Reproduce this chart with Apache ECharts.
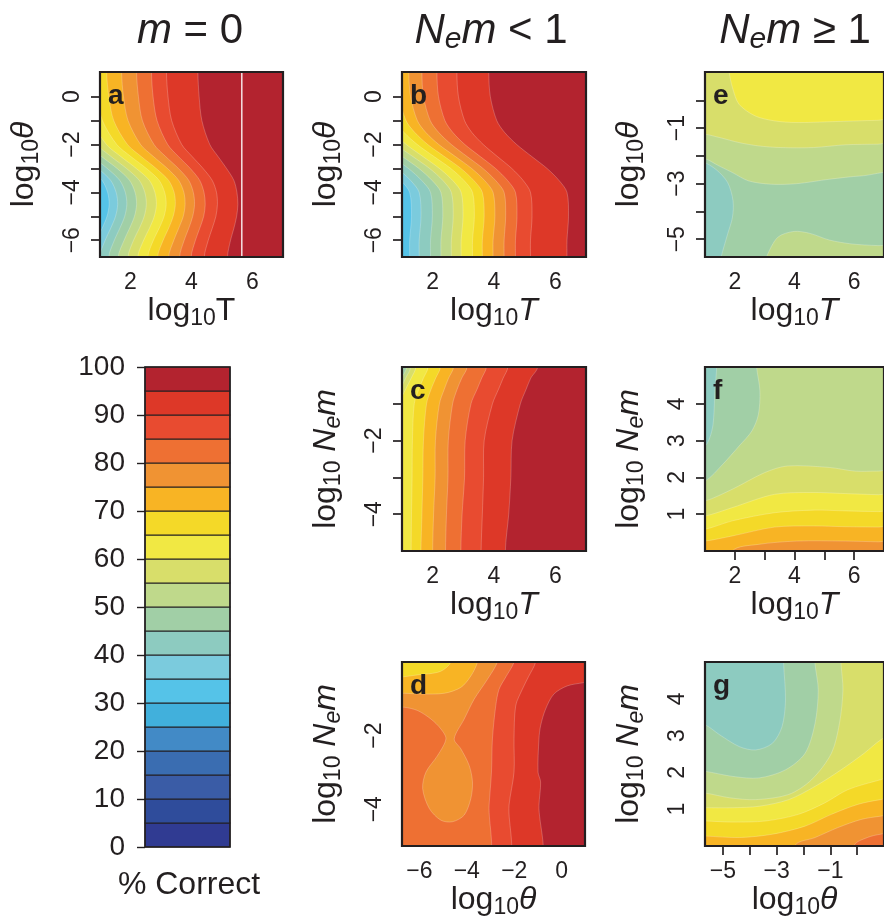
<!DOCTYPE html>
<html><head><meta charset="utf-8">
<script src="https://cdn.jsdelivr.net/npm/echarts@6.0.0/dist/echarts.min.js"></script>
<style>html,body{margin:0;padding:0;background:#fff;}#chart{width:884px;height:920px;}</style>
</head><body><div id="chart"></div>
<script>
// ---------- colour scale (% correct, 5% bands) ----------
const bandLows = [0,5,10,15,20,25,30,35,40,45,50,55,60,65,70,75,80,85,90,95];
const bandColors = ['#303b92','#2f4c9b','#3a5ca6','#3a6db1','#428ac6','#41b0dc','#55c3e8','#7bcbdd','#8dcbc0','#a1cfa6',
                    '#bfd98b','#d8de6a','#f1e843','#f4d928','#f8b424','#f09333','#ee7033','#e84b30','#dd3828','#b3232f'];
const colorbarTicks = [0,10,20,30,40,50,60,70,80,90,100];

// ---------- panel a (m = 0): contour x-positions (log10 T) at given log10 theta ----------
const aY = [1.0, 0, -1, -2, -2.5, -3, -3.5, -4, -4.5, -5, -5.5, -6, -6.7];
const aBounds = [
  [95, [4.21, 4.25, 4.34, 4.60, 4.87, 5.15, 5.39, 5.49, 5.52, 5.48, 5.39, 5.28, 5.18]],
  [90, [3.18, 3.23, 3.35, 3.68, 4.02, 4.38, 4.68, 4.82, 4.85, 4.80, 4.68, 4.55, 4.42]],
  [85, [2.69, 2.74, 2.87, 3.22, 3.57, 3.96, 4.27, 4.41, 4.45, 4.40, 4.27, 4.13, 3.99]],
  [80, [2.20, 2.26, 2.39, 2.77, 3.15, 3.57, 3.91, 4.06, 4.10, 4.04, 3.91, 3.76, 3.61]],
  [75, [1.71, 1.77, 1.92, 2.33, 2.75, 3.21, 3.58, 3.75, 3.79, 3.73, 3.58, 3.42, 3.25]],
  [70, [1.22, 1.29, 1.45, 1.90, 2.35, 2.84, 3.25, 3.43, 3.47, 3.40, 3.25, 3.07, 2.89]],
  [65, [0.85, 0.92, 1.08, 1.55, 2.01, 2.52, 2.94, 3.12, 3.17, 3.10, 2.94, 2.75, 2.57]],
  [60, [0.50, 0.57, 0.74, 1.21, 1.68, 2.19, 2.62, 2.80, 2.85, 2.78, 2.62, 2.43, 2.24]],
  [55, [0.20, 0.27, 0.43, 0.90, 1.36, 1.87, 2.29, 2.47, 2.52, 2.45, 2.29, 2.10, 1.92]],
  [50, [-0.10, -0.03, 0.13, 0.59, 1.05, 1.56, 1.97, 2.15, 2.20, 2.13, 1.97, 1.79, 1.60]],
  [45, [-0.40, -0.33, -0.17, 0.28, 0.74, 1.24, 1.65, 1.83, 1.88, 1.81, 1.65, 1.47, 1.29]],
  [40, [-0.70, -0.63, -0.47, -0.02, 0.44, 0.94, 1.35, 1.53, 1.58, 1.51, 1.35, 1.17, 0.99]],
  [35, [-1.00, -0.93, -0.77, -0.31, 0.15, 0.66, 1.07, 1.25, 1.30, 1.23, 1.07, 0.89, 0.70]]
];
const aGapT = 5.65;

// ---------- panel b (Nem < 1) ----------
const bY = [1.0, 0, -1, -1.5, -2, -2.5, -3, -3.5, -4, -5, -6, -6.7];
const bBounds = [
  [95, [3.83, 3.88, 4.09, 4.35, 4.74, 5.23, 5.73, 6.12, 6.38, 6.43, 6.38, 6.38]],
  [90, [2.79, 2.84, 3.04, 3.28, 3.65, 4.11, 4.58, 4.95, 5.19, 5.24, 5.19, 5.19]],
  [85, [2.14, 2.19, 2.40, 2.66, 3.05, 3.55, 4.05, 4.44, 4.70, 4.75, 4.70, 4.70]],
  [80, [1.65, 1.70, 1.92, 2.20, 2.61, 3.12, 3.64, 4.05, 4.33, 4.38, 4.33, 4.33]],
  [75, [1.22, 1.28, 1.50, 1.78, 2.20, 2.74, 3.27, 3.69, 3.97, 4.03, 3.97, 3.97]],
  [70, [0.85, 0.91, 1.13, 1.42, 1.84, 2.38, 2.92, 3.34, 3.62, 3.68, 3.62, 3.62]],
  [65, [0.50, 0.56, 0.79, 1.07, 1.50, 2.04, 2.59, 3.02, 3.30, 3.36, 3.30, 3.30]],
  [60, [0.15, 0.21, 0.43, 0.72, 1.14, 1.68, 2.22, 2.65, 2.93, 2.99, 2.93, 2.93]],
  [55, [-0.20, -0.14, 0.09, 0.37, 0.80, 1.35, 1.90, 2.33, 2.61, 2.67, 2.61, 2.61]],
  [50, [-0.55, -0.49, -0.26, 0.03, 0.46, 1.01, 1.55, 1.98, 2.27, 2.33, 2.27, 2.27]],
  [45, [-0.90, -0.84, -0.61, -0.32, 0.11, 0.66, 1.21, 1.64, 1.93, 1.99, 1.93, 1.93]],
  [40, [-1.25, -1.19, -0.96, -0.68, -0.25, 0.30, 0.85, 1.28, 1.56, 1.62, 1.56, 1.56]],
  [35, [-1.60, -1.54, -1.31, -1.02, -0.58, -0.03, 0.52, 0.96, 1.25, 1.31, 1.25, 1.25]]
];

// ---------- panel c (Nem < 1, log10 T vs log10 Nem) ----------
const cY = [0, -0.3, -0.6, -1, -2, -3, -4, -5];
const cBounds = [
  [95, [5.42, 5.20, 5.05, 4.86, 4.59, 4.55, 4.48, 4.37]],
  [90, [4.45, 4.30, 4.15, 3.95, 3.68, 3.66, 3.62, 3.58]],
  [85, [3.75, 3.60, 3.45, 3.25, 3.06, 3.04, 2.96, 2.92]],
  [80, [3.12, 2.95, 2.80, 2.65, 2.51, 2.50, 2.45, 2.42]],
  [75, [2.68, 2.52, 2.38, 2.22, 2.09, 2.08, 2.03, 2.00]],
  [70, [2.25, 2.10, 1.95, 1.80, 1.70, 1.68, 1.65, 1.62]],
  [65, [1.85, 1.70, 1.55, 1.40, 1.34, 1.33, 1.31, 1.30]],
  [60, [1.45, 1.30, 1.12, 0.90, 0.60, 0.60, 0.60, 0.60]],
  [55, [1.28, 1.12, 0.95, 0.70, 0.40, 0.40, 0.40, 0.40]],
  [50, [1.15, 0.98, 0.75, 0.50, 0.20, 0.20, 0.20, 0.20]],
  [45, [1.05, 0.88, 0.60, 0.30, 0.00, 0.00, 0.00, 0.00]]
];

// ---------- panel d (Nem < 1, log10 theta vs log10 Nem): filled regions [bandLow, outline] ----------
const dBase = 95;
const dRegions = [
  [90, [[-7.5,0.5],[1.5,0.5],[1.5,-0.5],[0.93,-0.56],[0.23,-0.65],[-0.33,-0.87],[-0.68,-1.28],[-0.89,-1.73],[-0.96,-2.09],[-1.0,-2.99],[-0.89,-3.26],[-0.96,-3.89],[-1.03,-5.5],[-7.5,-5.5]]],
  [85, [[-7.5,0.5],[-1.05,0.5],[-1.10,0],[-1.40,-0.40],[-1.66,-0.74],[-1.94,-1.19],[-2.01,-2.09],[-2.01,-2.99],[-2.22,-3.89],[-2.36,-5.5],[-7.5,-5.5]]],
  [80, [[-7.5,0.5],[-1.95,0.5],[-2.01,0],[-2.35,-0.40],[-2.64,-0.74],[-2.78,-1.19],[-2.92,-2.09],[-2.96,-2.99],[-3.06,-3.89],[-3.20,-5.5],[-7.5,-5.5]]],
  [75, [[-7.5,0.5],[-2.6,0.5],[-2.71,0],[-3.13,-0.47],[-3.69,-1.01],[-4.11,-1.55],[-4.53,-2.09],[-4.25,-2.36],[-3.90,-2.81],[-3.76,-3.26],[-3.83,-3.71],[-4.11,-4.16],[-4.60,-4.34],[-5.09,-4.30],[-5.58,-3.98],[-5.86,-3.44],[-5.72,-2.99],[-5.23,-2.54],[-4.88,-2.09],[-5.09,-1.82],[-5.51,-1.55],[-6.07,-1.32],[-6.63,-1.23],[-7.5,-1.2]]],
  [70, [[-7.5,0.5],[-3.5,0.5],[-3.55,0],[-3.83,-0.38],[-4.25,-0.69],[-4.95,-0.85],[-5.93,-0.87],[-6.63,-0.85],[-7.5,-0.85]]],
  [65, [[-7.5,0.5],[-4.6,0.5],[-4.67,0],[-5.09,-0.25],[-5.79,-0.33],[-7.5,-0.36]]]
];

// ---------- panel e (Nem >= 1, log10 T vs log10 theta) ----------
const eBase = 60;
const eRegions = [
  [55, [[0.5,1.5],[1.75,1.5],[1.81,1.0],[1.92,0.46],[2.14,-0.14],[2.68,-0.56],[3.33,-0.74],[4.08,-0.80],[5.17,-0.77],[6.79,-0.72],[7.5,-0.72],[7.5,-6],[0.5,-6]]],
  [50, [[0.5,-1.2],[1.0,-1.22],[1.49,-1.34],[2.14,-1.52],[2.79,-1.64],[3.54,-1.70],[4.63,-1.70],[5.71,-1.60],[6.79,-1.58],[7.5,-1.58],[7.5,-6],[0.5,-6]]],
  [45, [[0.5,-2.05],[1.0,-2.1],[1.45,-2.35],[1.92,-2.60],[2.46,-2.90],[3.22,-3.02],[4.08,-3.0],[5.17,-2.84],[6.25,-2.72],[7.5,-2.70],[7.5,-6],[0.5,-6]]],
  [40, [[0.5,-2.2],[0.9,-2.2],[1.38,-2.50],[1.76,-2.96],[1.94,-3.62],[1.92,-4.21],[1.76,-4.81],[1.54,-5.65],[1.5,-6],[0.5,-6]]],
  [50, [[3.0,-6],[3.06,-5.64],[3.44,-4.93],[3.98,-4.72],[4.52,-4.79],[5.17,-5.03],[5.92,-5.17],[6.79,-5.23],[7.5,-5.25],[7.5,-6]]]
];

// ---------- panel f (Nem >= 1, log10 T vs log10 Nem) ----------
const fBase = 50;
const fRegions = [
  [45, [[0.5,5.5],[2.73,5.5],[2.73,5.0],[2.84,4.35],[2.79,3.71],[2.57,3.26],[2.14,2.85],[1.6,2.36],[1.0,1.90],[0.5,1.85]]],
  [40, [[0.5,5.5],[1.32,5.5],[1.32,4.17],[1.27,3.44],[1.16,3.08],[1.0,2.85],[0.5,2.7]]],
  [55, [[0.5,1.36],[1.0,1.36],[1.92,1.68],[3.0,2.13],[3.76,2.31],[5.17,2.27],[6.03,2.17],[6.81,2.17],[7.5,2.17],[7.5,-1],[0.5,-1]]],
  [60, [[0.5,0.95],[1.0,0.95],[1.92,1.18],[3.33,1.54],[4.63,1.59],[5.71,1.56],[6.81,1.53],[7.5,1.53],[7.5,-1],[0.5,-1]]],
  [65, [[0.5,0.59],[1.0,0.59],[1.92,0.82],[3.33,1.04],[4.63,1.11],[5.71,1.09],[6.81,1.07],[7.5,1.07],[7.5,-1],[0.5,-1]]],
  [70, [[0.5,0.27],[1.0,0.27],[1.92,0.41],[3.33,0.65],[4.63,0.68],[5.71,0.66],[6.81,0.65],[7.5,0.65],[7.5,-1],[0.5,-1]]],
  [75, [[1.7,-1],[1.92,0.0],[2.79,0.18],[4.08,0.27],[5.71,0.27],[6.81,0.25],[7.5,0.25],[7.5,-1]]]
];

// ---------- panel g (Nem >= 1, log10 theta vs log10 Nem) ----------
const gBase = 55;
const gRegions = [
  [50, [[-6,5.5],[-0.60,5.5],[-0.60,4.96],[-0.53,4.24],[-0.66,3.33],[-0.96,2.52],[-1.70,1.80],[-2.55,1.40],[-3.78,1.26],[-4.75,1.31],[-5.67,1.44],[-6,1.44]]],
  [45, [[-6,5.5],[-1.57,5.5],[-1.57,4.96],[-1.45,4.24],[-1.57,3.33],[-1.94,2.52],[-2.67,2.07],[-3.65,1.85],[-4.63,1.89],[-5.67,2.03],[-6,2.03]]],
  [40, [[-6,5.5],[-2.74,5.5],[-2.74,4.96],[-2.67,3.96],[-2.80,3.24],[-3.16,2.79],[-3.78,2.61],[-4.39,2.70],[-5.12,3.02],[-5.66,3.29],[-6,3.29]]],
  [60, [[-6,1.04],[-5.67,1.04],[-4.63,1.04],[-3.65,1.08],[-2.55,1.26],[-1.57,1.62],[-0.60,2.07],[0.26,2.52],[0.87,2.88],[1.5,3.1],[1.5,-1],[-6,-1]]],
  [65, [[-6,0.68],[-5.67,0.68],[-4.63,0.65],[-3.41,0.68],[-2.19,0.86],[-1.21,1.17],[-0.35,1.53],[0.87,1.80],[1.5,1.9],[1.5,-1],[-6,-1]]],
  [70, [[-6,0.27],[-5.67,0.27],[-4.39,0.23],[-3.16,0.32],[-1.94,0.54],[-0.96,0.86],[0.02,1.13],[0.87,1.26],[1.5,1.3],[1.5,-1],[-6,-1]]],
  [75, [[-2.5,-1],[-2.31,0.02],[-1.57,0.23],[-0.72,0.50],[0.14,0.72],[0.87,0.81],[1.5,0.85],[1.5,-1]]],
  [80, [[-0.3,-1],[-0.11,0.02],[0.38,0.23],[0.87,0.32],[1.5,0.36],[1.5,-1]]]
];

// ---------- tick values ----------
const ticksT = [2,3,4,5,6], labelsT = [2,4,6];
const ticksThetaA = [-6,-5,-4,-3,-2,-1,0], labelsThetaA = [-6,-4,-2,0];
const ticksThetaE = [-5,-4,-3,-2,-1,0], labelsThetaE = [-5,-3,-1];
const ticksNemLow = [-4,-3,-2,-1], labelsNemLow = [-4,-2];
const ticksNemHigh = [1,2,3,4], labelsNemHigh = [1,2,3,4];

// ---------- build ----------
const FONT = "'Liberation Sans', Arial, Helvetica, sans-serif";
const INK = '#231f20';
const BIG = [[-50,50],[50,50],[50,-50],[-50,-50]];

function fromBounds(ys, bounds) {
  const n = ys.length - 1;
  return bounds.map(([t, xs]) => [t - 5, [[-20, ys[0] + 5], [xs[0], ys[0] + 5]]
    .concat(xs.map((x, i) => [x, ys[i]]))
    .concat([[xs[n], ys[n] - 5], [-20, ys[n] - 5]])]);
}
const regA = [[95, BIG]].concat(fromBounds(aY, aBounds));
const regB = [[95, BIG]].concat(fromBounds(bY, bBounds));
const regC = [[95, BIG]].concat(fromBounds(cY, cBounds));
const regD = [[dBase, BIG]].concat(dRegions);
const regE = [[eBase, BIG]].concat(eRegions);
const regF = [[fBase, BIG]].concat(fRegions);
const regG = [[gBase, BIG]].concat(gRegions);

const nmLogT = '{n|log}{s|10}{n|T}';
const nmLogTi = '{n|log}{s|10}{i|T}';
const nmLogTheta = '{n|log}{s|10}{i|θ}';
const nmLogNem = '{n|log}{s|10}{n| }{i|N}{si|e}{i|m}';

const panels = [
  {g:[100,72,183,185], xr:[1,7], yr:[-6.7,1.03], xt:ticksT, xl:labelsT, yt:ticksThetaA, yl:labelsThetaA, xn:nmLogT, yn:nmLogTheta, reg:regA, L:'a'},
  {g:[402,72,184,185], xr:[1,7], yr:[-6.7,1.03], xt:ticksT, xl:labelsT, yt:ticksThetaA, yl:labelsThetaA, xn:nmLogTi, yn:nmLogTheta, reg:regB, L:'b'},
  {g:[705,72,185,185], xr:[1,7], yr:[-5.64,1.02], xt:ticksT, xl:labelsT, yt:ticksThetaE, yl:labelsThetaE, xn:nmLogTi, yn:nmLogTheta, reg:regE, L:'e'},
  {g:[402,367,184,184], xr:[1,7], yr:[-5,0], xt:ticksT, xl:labelsT, yt:ticksNemLow, yl:labelsNemLow, xn:nmLogTi, yn:nmLogNem, reg:regC, L:'c'},
  {g:[705,367,185,184], xr:[1,7], yr:[0,5], xt:ticksT, xl:labelsT, yt:ticksNemHigh, yl:labelsNemHigh, xn:nmLogTi, yn:nmLogNem, reg:regF, L:'f'},
  {g:[402,662,183,184], xr:[-6.73,0.98], yr:[-5,0], xt:ticksThetaA, xl:labelsThetaA, yt:ticksNemLow, yl:labelsNemLow, xn:nmLogTheta, yn:nmLogNem, reg:regD, L:'d'},
  {g:[705,662,182,184], xr:[-5.67,1.0], yr:[0,5], xt:ticksThetaE, xl:labelsThetaE, yt:ticksNemHigh, yl:labelsNemHigh, xn:nmLogTheta, yn:nmLogNem, reg:regG, L:'g'}
];

const fmt = v => (v < 0 ? '\u2212' + Math.abs(v) : String(v));
const nameRich = {
  n: {fontFamily: FONT, fontSize: 32, lineHeight: 38, color: INK},
  i: {fontFamily: FONT, fontSize: 32, lineHeight: 38, fontStyle: 'italic', color: INK},
  s: {fontFamily: FONT, fontSize: 23, lineHeight: 23, verticalAlign: 'bottom', color: INK},
  si: {fontFamily: FONT, fontSize: 23, lineHeight: 23, verticalAlign: 'bottom', fontStyle: 'italic', color: INK}
};

const grids = [], xAxes = [], yAxes = [], series = [], graphics = [];
panels.forEach((p, i) => {
  grids.push({left:p.g[0], top:p.g[1], width:p.g[2], height:p.g[3], show:true, borderColor:INK, borderWidth:2.2, backgroundColor:'rgba(0,0,0,0)', z:10});
  xAxes.push({type:'value', gridIndex:i, min:p.xr[0], max:p.xr[1], splitLine:{show:false}, axisLine:{show:false},
    axisTick:{customValues:p.xt, length:9, lineStyle:{color:INK, width:1.7}},
    axisLabel:{customValues:p.xl, formatter:fmt, fontFamily:FONT, fontSize:23, color:INK, margin:14},
    name:p.xn, nameLocation:'middle', nameGap:30, nameTextStyle:{fontFamily:FONT, fontSize:32, color:INK, rich:nameRich}});
  yAxes.push({type:'value', gridIndex:i, min:p.yr[0], max:p.yr[1], splitLine:{show:false}, axisLine:{show:false},
    axisTick:{customValues:p.yt, length:9, lineStyle:{color:INK, width:1.7}},
    axisLabel:{customValues:p.yl, formatter:fmt, fontFamily:FONT, fontSize:23, color:INK, margin:16, rotate:90},
    name:p.yn, nameLocation:'middle', nameGap:57, nameRotate:90, nameTextStyle:{fontFamily:FONT, fontSize:32, color:INK, rich:nameRich}});
  const reg = p.reg;
  series.push({type:'custom', xAxisIndex:i, yAxisIndex:i, clip:true, silent:true, animation:false,
    data: reg.map(() => [p.xr[0], p.yr[0]]),
    renderItem: (params, api) => {
      const r = reg[params.dataIndex];
      const bg = params.dataIndex === 0;
      return {type:'polygon', shape:{points: r[1].map(pt => api.coord(pt)), smooth: bg ? 0 : 0.3},
        style:{fill: bandColors[r[0] / 5], stroke: bg ? null : 'rgba(255,255,255,0.28)', lineWidth: 0.8}};
    }});
  graphics.push({type:'text', x:p.g[0] + 8, y:p.g[1] + 24, z:100,
    style:{text:p.L, fontSize:28, fontWeight:'bold', fontFamily:FONT, fill:INK, textVerticalAlign:'middle', verticalAlign:'middle'}});
});

// white gap line in panel a
series.push({type:'line', xAxisIndex:0, yAxisIndex:0, silent:true, animation:false, symbol:'none', z:5,
  data:[[aGapT, -6.7], [aGapT, 1.03]], lineStyle:{color:'#ffffff', width:1.3}});

// colour bar
const cbIndex = panels.length;
grids.push({left:145, top:367, width:85, height:480, show:true, borderColor:INK, borderWidth:1.5, backgroundColor:'rgba(0,0,0,0)', z:10});
xAxes.push({type:'value', gridIndex:cbIndex, min:0, max:1, show:false});
yAxes.push({type:'value', gridIndex:cbIndex, min:0, max:100, interval:10, splitLine:{show:false}, axisLine:{show:false},
  axisTick:{length:8, lineStyle:{color:INK, width:1.4}},
  axisLabel:{fontFamily:FONT, fontSize:28, color:INK, margin:20, customValues:colorbarTicks}});
series.push({type:'custom', xAxisIndex:cbIndex, yAxisIndex:cbIndex, silent:true, animation:false,
  data: bandLows.map(v => [0.5, v]),
  renderItem: (params, api) => {
    const v = api.value(1);
    const p0 = api.coord([0, v]), p1 = api.coord([1, v + 5]);
    return {type:'rect', shape:{x:p0[0], y:p1[1], width:p1[0] - p0[0], height:p0[1] - p1[1]},
      style:{fill: bandColors[v / 5], stroke: INK, lineWidth: 1.2}};
  }});

// column titles and colour-bar caption
const titleRich = {
  i: {fontFamily: FONT, fontSize: 42, lineHeight: 48, fontStyle: 'italic', fill: INK},
  n: {fontFamily: FONT, fontSize: 42, lineHeight: 48, fill: INK},
  si: {fontFamily: FONT, fontSize: 30, lineHeight: 30, fontStyle: 'italic', verticalAlign: 'bottom', fill: INK}
};
[['{i|m}{n| = 0}', 190], ['{i|N}{si|e}{i|m}{n| < 1}', 491], ['{i|N}{si|e}{i|m}{n| \u2265 1}', 795]].forEach(([t, x]) => {
  graphics.push({type:'text', x:x, y:31, z:100,
    style:{text:t, rich:titleRich, fontFamily:FONT, fontSize:42, fill:INK, textAlign:'center', align:'center', textVerticalAlign:'middle', verticalAlign:'middle'}});
});
graphics.push({type:'text', x:189, y:885, z:100,
  style:{text:'% Correct', fontFamily:FONT, fontSize:32, fill:INK, textAlign:'center', align:'center', textVerticalAlign:'middle', verticalAlign:'middle'}});

const chart = echarts.init(document.getElementById('chart'), null, {renderer:'canvas'});
chart.setOption({animation:false, backgroundColor:'#ffffff', grid:grids, xAxis:xAxes, yAxis:yAxes, series:series, graphic:graphics});
</script></body></html>
